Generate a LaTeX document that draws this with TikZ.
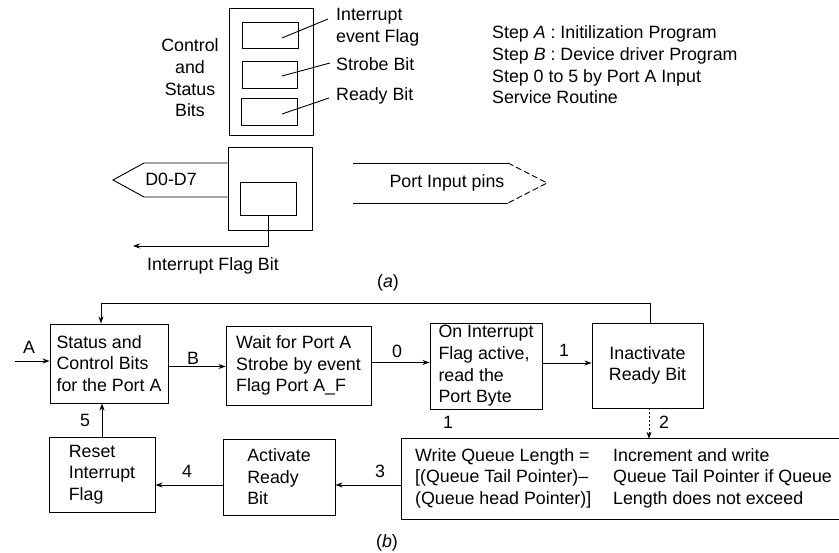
\documentclass[tikz,border=0pt]{standalone}
\usepackage{fontspec}
\setmainfont{Liberation Sans}
\usetikzlibrary{arrows.meta,calc}
\begin{document}
\begin{tikzpicture}[x=1pt,y=-1pt,
  every node/.style={font=\fontsize{17.8}{21.6}\selectfont, inner sep=0pt},
  box/.style={draw, line width=0.9pt, align=left},
  cbox/.style={draw, line width=0.9pt, align=center},
  ln/.style={line width=0.9pt},
  arr/.style={line width=0.9pt, -{Stealth[length=7pt,width=5pt]}},
  txt/.style={align=left}]
\useasboundingbox (0,0) rectangle (839,553);

% ---------- part (a) ----------
\node[box, minimum width=84pt, minimum height=127pt] (csb) at (271,71.5) {};
\node[box, minimum width=56pt, minimum height=26pt] (ib1) at (270,35) {};
\node[box, minimum width=55pt, minimum height=27pt] (ib2) at (269.5,74.5) {};
\node[box, minimum width=56pt, minimum height=27pt] (ib3) at (269,111.5) {};
\node[txt, anchor=west] (lint) at (336,27) {Interrupt\\event Flag};
\node[txt, anchor=west] (lstr) at (336,64) {Strobe Bit};
\node[txt, anchor=west] (lrdy) at (336,96) {Ready Bit};
\draw[ln] ($(ib1.center)+(12,3)$) -- ($(lint.west)+(-8,-8)$);
\draw[ln] ($(ib2.center)+(12.5,1.5)$) -- ($(lstr.west)+(-6,-1)$);
\draw[ln] ($(ib3.center)+(13,2.5)$) -- ($(lrdy.west)+(-7,2)$);
\node[align=center] (csbl) at (190,78) {Control\\and\\Status\\Bits};

\node[txt, anchor=west] (steps) at (492,65) {Step \textit{A} : Initilization Program\\Step \textit{B} : Device driver Program\\Step 0 to 5 by Port A Input\\Service Routine};

\node[box, minimum width=84pt, minimum height=83pt] (port) at (270,188.5) {};
\node[box, minimum width=56pt, minimum height=33pt] (pib) at (268,198.5) {};
\draw[ln] ($(port.west)+(0,-25.5)$) -- (144,163) -- (113,180) -- (144,197) -- ($(port.west)+(0,8.5)$);
\node (d07) at (171,179) {D0-D7};
\coordinate (ifb) at (133,246);
\draw[arr] (pib.south) |- (ifb);
\node (ifbl) at (213,266) {Interrupt Flag Bit};

\draw[ln] (508,163) -- (353,163);
\draw[ln] (508,203) -- (353,203);
\draw[ln, dash pattern=on 6pt off 3pt] (508,163) -- (547,183) -- (508,203);
\node (pip) at (447,183) {Port Input pins};

\node (capa) at (388,283) {(\textit{a})};

% ---------- part (b) ----------
\node[box, minimum width=118pt, minimum height=79pt] (s1) at (109,363.5) {Status and\\Control Bits\\for the Port A};
\node[box, minimum width=145pt, minimum height=79pt] (s2) at (298.5,365.5) {Wait for Port A\\Strobe by event\\Flag Port A\_F};
\node[box, minimum width=112pt, minimum height=86pt] (s3) at (486,366) {On Interrupt\\Flag active,\\read the\\Port Byte};
\node[cbox, minimum width=111pt, minimum height=85pt] (s4) at (647.5,365.5) {Inactivate\\Ready Bit};
\node[box, minimum width=106pt, minimum height=75pt] (reset) at (102,474.5) {Reset\\Interrupt\\Flag};
\node[box, minimum width=112pt, minimum height=76pt] (act) at (279,477) {Activate\\Ready\\Bit};
\node[minimum width=437pt, minimum height=80pt] (qbox) at (620.5,479) {};
\draw[ln] (qbox.north east) -- (qbox.north west) -- (qbox.south west) -- (qbox.south east);
\node[txt, anchor=west] (wq) at (415,478) {Write Queue Length =\\{[}(Queue Tail Pointer)–\\(Queue head Pointer)]};
\node[txt, anchor=west] (inc) at (613,478) {Increment and write\\Queue Tail Pointer if Queue\\Length does not exceed};

\coordinate (ain) at (15,361);
\draw[arr] (ain) -- (ain -| s1.west);
\node (la) at (29,347) {A};

\coordinate (pb) at ([yshift=-3pt]s1.east);
\draw[arr] (pb) -- (pb -| s2.west);
\node (lb) at (193,358) {B};

\coordinate (p0) at ([yshift=3pt]s2.east);
\draw[arr] (p0) -- (p0 -| s3.west);
\node (l0) at (397,351) {0};

\coordinate (p1) at ([yshift=3pt]s3.east);
\draw[arr] (p1) -- (p1 -| s4.west);
\node (l1) at (564,350) {1};
\node (l1b) at (448,422) {1};

\coordinate (p2) at ([xshift=1.5pt]s4.south);
\draw[arr, dash pattern=on 2pt off 2pt] (p2) -- (p2 |- qbox.north);
\node (l2) at (664,422) {2};

\coordinate (a3) at ([yshift=-8pt]act.east);
\draw[arr] (qbox.west |- a3) -- (a3);
\node (l3) at (380,471) {3};

\draw[arr] (a3 -| act.west) -- (a3 -| reset.east);
\node (l4) at (187,471) {4};

\draw[arr] (reset.north) -- (reset.north |- s1.south);
\node (l5) at (85,420) {5};

\draw[arr] ([xshift=3pt]s4.north) -- ++(0,-19) -| ([xshift=-8pt]s1.north);

\node (capb) at (387,543) {(\textit{b})};
\end{tikzpicture}
\end{document}
